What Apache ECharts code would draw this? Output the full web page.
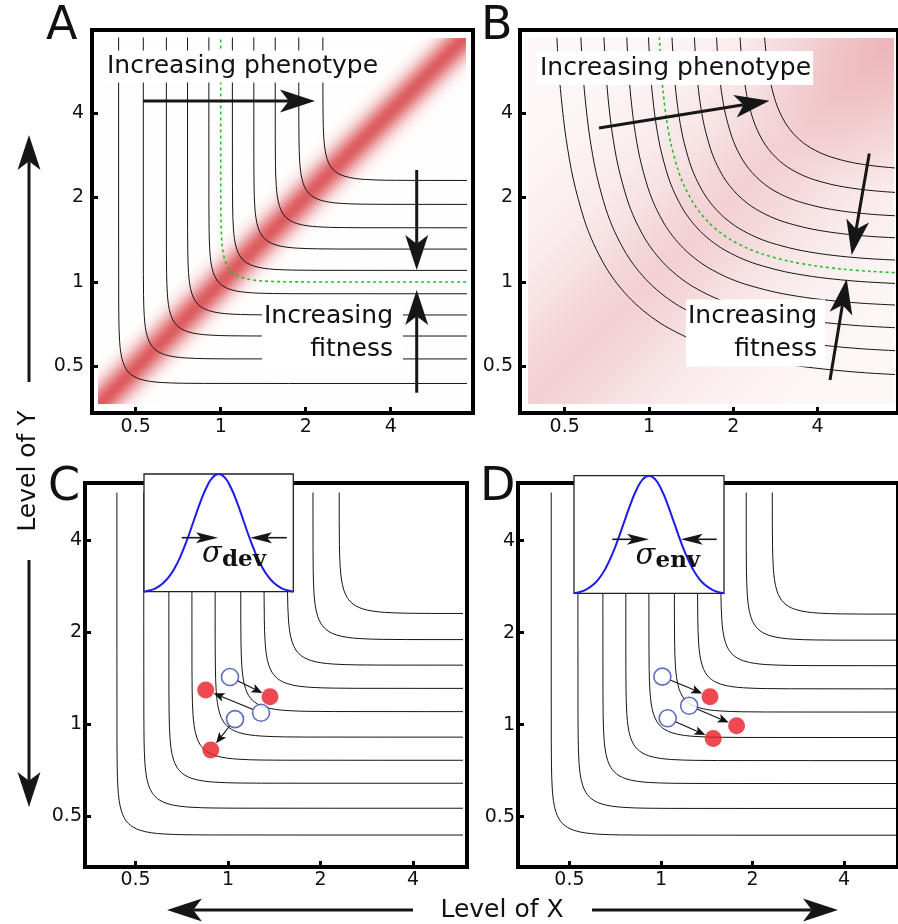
<!DOCTYPE html>
<html><head><meta charset="utf-8">
<script src="https://cdn.jsdelivr.net/npm/echarts@6/dist/echarts.min.js"></script>
<style>html,body{margin:0;padding:0;background:#fff}#c{width:898px;height:924px}</style>
</head><body><div id="c"></div>
<script>
// ================= DATA =================
const tickValues = [0.5, 1, 2, 4];
const tickLabels = ['0.5', '1', '2', '4'];

// Normalised contour shape (corner of one phenotype isocline), read once from the figure:
// offsets along X (S) and Y (T), in units of the corner size.
const shapeS = [0, 0.00002, 0.00565, 0.0227, 0.0458, 0.0931, 0.1335, 0.1926, 0.2806, 0.415, 0.5305, 0.6864, 0.8244, 1, 1.2, 1.4, 1.7, 2, 2.5, 3, 3.5, 4, 5, 6, 8, 16, 40];
const shapeT = [40, 16, 8, 6, 5, 4, 3.5, 3, 2.5, 2, 1.7, 1.4, 1.2, 1, 0.8244, 0.6864, 0.5305, 0.415, 0.2806, 0.1926, 0.1335, 0.0931, 0.0458, 0.0227, 0.00565, 0.00002, 0];

// Panels A, C, D: contour levels (asymptotic level of X or Y) and corner size (octaves)
const contourLevelsACD = [0.435, 0.532, 0.642, 0.763, 0.908, 1.10, 1.31, 1.56, 1.89, 2.30];
const cornerACD = 0.125;
const optimumLevelA = 1.0;

// Panel B: contour levels and corner sizes (rounder isoclines)
const contourLevelsB = [0.444, 0.544, 0.661, 0.800, 0.958, 1.163, 1.398, 1.675, 2.028, 2.471];
const cornerB        = [0.956, 0.869, 0.789, 0.718, 0.658, 0.599, 0.548, 0.502, 0.457, 0.415];
const optimumLevelB = 1.048;
const optimumCornerB = 0.630;

// Fitness across the diagonal: offset log2(X/Y) -> relative fitness
const fitOffsetA = [-0.6, -0.5, -0.4, -0.35, -0.3, -0.25, -0.2, -0.15, -0.1, -0.05, 0, 0.05, 0.1, 0.15, 0.2, 0.25, 0.3, 0.35, 0.4, 0.5, 0.6];
const fitnessA   = [0.004, 0.021, 0.085, 0.151, 0.249, 0.381, 0.539, 0.707, 0.857, 0.962, 1, 0.962, 0.857, 0.707, 0.539, 0.381, 0.249, 0.151, 0.085, 0.021, 0.004];
const fitOffsetB = [-4.4, -3, -2.5, -2, -1.5, -1, -0.5, 0, 0.5, 1, 1.5, 2, 2.5, 3, 4.4];
const fitnessB   = [0.08, 0.09, 0.11, 0.15, 0.21, 0.29, 0.39, 0.45, 0.39, 0.29, 0.21, 0.15, 0.11, 0.09, 0.08];

// Panel C: development noise moves (start -> end)
const cStartX = [1.015, 1.281, 1.054];
const cStartY = [1.427, 1.091, 1.040];
const cEndX   = [1.370, 0.846, 0.879];
const cEndY   = [1.230, 1.294, 0.824];
// Panel D: environmental noise moves (start -> end)
const dStartX = [1.005, 1.230, 1.046];
const dStartY = [1.436, 1.154, 1.050];
const dEndX   = [1.439, 1.758, 1.474];
const dEndY   = [1.235, 0.992, 0.902];

// Inset noise distribution
const gaussX = [-3,-2.75,-2.5,-2.25,-2,-1.75,-1.5,-1.25,-1,-0.75,-0.5,-0.25,0,0.25,0.5,0.75,1,1.25,1.5,1.75,2,2.25,2.5,2.75,3];
const gaussY = [0.011,0.023,0.044,0.080,0.135,0.216,0.325,0.458,0.607,0.755,0.882,0.969,1,0.969,0.882,0.755,0.607,0.458,0.325,0.216,0.135,0.080,0.044,0.023,0.011];

// ================= LAYOUT / STYLE =================
const FONT = 'DejaVu Sans';
const L2 = Math.log2;
const panels = [
  {frame:[92,30,473,413],  inner:[98,38,466,404],  ox:220.7, oy:282,   px:85,   py:84.5, mx:5, my:8},
  {frame:[520,30,901,413], inner:[528,38,894,404], ox:650,   oy:282,   px:85,   py:84.5, mx:5, my:7},
  {frame:[85,483,467,867], inner:[91,493,462,861], ox:228,   oy:724.3, px:92.5, py:92.2, mx:4, my:3},
  {frame:[518,483,900,867],inner:[524,493,895,861],ox:661.7, oy:724.7, px:92,   py:92,   mx:4, my:3}
];
const grids = [], xAxes = [], yAxes = [];
const tickLog = tickValues.map(L2);
const fmt = v => { const i = tickLog.findIndex(t => Math.abs(t - v) < 1e-6); return i >= 0 ? tickLabels[i] : ''; };
const hiddenAxis = (gi, min, max) => ({type:'value', gridIndex:gi, min:min, max:max, show:false,
  axisLine:{show:false, onZero:false}, axisTick:{show:false}, axisLabel:{show:false}, splitLine:{show:false}});
panels.forEach(p => {
  const toX = x => (x - p.ox) / p.px, toY = y => (p.oy - y) / p.py;
  [p.frame, p.inner].forEach((r, k) => {
    const isF = k === 0;
    grids.push({left:r[0], top:r[1], width:r[2]-r[0], height:r[3]-r[1], show:isF, borderColor:'#000', borderWidth:4, backgroundColor:'rgba(0,0,0,0)', z:0});
    const gi = grids.length - 1;
    const mk = (min, max, margin) => isF ? {
      type:'value', gridIndex:gi, min:min, max:max, axisLine:{show:false, onZero:false}, splitLine:{show:false},
      axisTick:{show:true, inside:true, length:6, lineStyle:{color:'#000', width:3}, customValues:tickLog},
      axisLabel:{show:true, fontSize:19, fontFamily:FONT, color:'#111', margin:margin, customValues:tickLog, formatter:fmt}
    } : hiddenAxis(gi, min, max);
    xAxes.push(mk(toX(r[0]), toX(r[2]), p.mx));
    yAxes.push(mk(toY(r[3]), toY(r[1]), p.my));
  });
});
// inset grids (C, D)
const insets = [[144,474,293.3,591.7],[574,475.7,724,593.3]];
insets.forEach(r => {
  grids.push({left:r[0], top:r[1], width:r[2]-r[0], height:r[3]-r[1], show:true, backgroundColor:'#fff', borderColor:'#222', borderWidth:1.3, z:5});
  const gi = grids.length - 1;
  xAxes.push(hiddenAxis(gi, -3, 3));
  yAxes.push(hiddenAxis(gi, 0.011, 1));
});

const series = [];
// ---- fitness landscapes ----
function mix(c, f){ return 'rgb(' + c.map(v => Math.round(255 - f*(255 - v))).join(',') + ')'; }
function bandStops(offs, fit, R, col){
  const s = [{offset:0, color:mix(col, fit[0])}];
  offs.forEach((d,i) => { const t = Math.min(1, Math.max(0, 0.5 + d/(2*R))); s.push({offset:t, color:mix(col, fit[i])}); });
  s.push({offset:1, color:mix(col, fit[fit.length-1])});
  return s;
}
function heatSeries(axisIdx, offs, fit, col, boost){
  const xa = xAxes[axisIdx];
  const R = xa.max - xa.min;
  const grad = {type:'linear', x:0, y:0, x2:1, y2:1, global:false, colorStops:bandStops(offs, fit, R, col)};
  return {type:'custom', xAxisIndex:axisIdx, yAxisIndex:axisIdx, z:1, silent:true, animation:false,
    data:[[0,0]],
    renderItem:(params, api) => {
      const cs = params.coordSys;
      const ch = [{type:'rect', shape:{x:cs.x, y:cs.y, width:cs.width, height:cs.height}, style:{fill:grad}}];
      if (boost) ch.push({type:'rect', shape:{x:cs.x, y:cs.y, width:cs.width, height:cs.height},
        style:{fill:{type:'radial', x:1, y:0, r:0.42, global:false, colorStops:[{offset:0, color:'rgba(226,140,146,0.4)'},{offset:1, color:'rgba(226,140,146,0)'}]}}});
      return {type:'group', children:ch};
    }};
}
series.push(heatSeries(1, fitOffsetA, fitnessA, [221,92,95], false));
series.push(heatSeries(3, fitOffsetB, fitnessB, [228,150,155], true));

// ---- contours ----
function contour(axisIdx, level, corner, style, smooth){
  const l = L2(level);
  return {type:'line', xAxisIndex:axisIdx, yAxisIndex:axisIdx, z:2, silent:true, animation:false, symbol:'none', clip:true,
    smooth:smooth, lineStyle:style, data:shapeS.map((s,i) => [l + s*corner, l + shapeT[i]*corner])};
}
const blackLine = {color:'#151515', width:1};
const greenLine = {color:'rgb(40,190,40)', width:1.6, type:[3,3]};
contourLevelsACD.forEach(L => {
  series.push(contour(1, L, cornerACD, blackLine, false));
  series.push(contour(5, L, cornerACD, blackLine, false));
  series.push(contour(7, L, cornerACD, blackLine, false));
});
series.push(contour(1, optimumLevelA, cornerACD, greenLine, false));
contourLevelsB.forEach((L,i) => series.push(contour(3, L, cornerB[i], blackLine, 0.3)));
series.push(contour(3, optimumLevelB, optimumCornerB, greenLine, 0.3));

// ---- noise moves in C and D ----
function moves(axisIdx, sx, sy, ex, ey){
  const data = sx.map((x,i) => [L2(x), L2(sy[i]), L2(ex[i]), L2(ey[i])]);
  series.push({type:'custom', xAxisIndex:axisIdx, yAxisIndex:axisIdx, z:3, silent:true, animation:false,
    encode:{x:[0,2], y:[1,3]}, data:data,
    renderItem:(params, api) => {
      const a = api.coord([api.value(0), api.value(1)]), b = api.coord([api.value(2), api.value(3)]);
      const dx = b[0]-a[0], dy = b[1]-a[1], len = Math.hypot(dx,dy), ux = dx/len, uy = dy/len, nx = -uy, ny = ux;
      const s = [a[0]+ux*8.5, a[1]+uy*8.5], t = [b[0]-ux*8.5, b[1]-uy*8.5];
      const hl = 11, hw = 4.5, m = [t[0]-ux*(hl-2.5), t[1]-uy*(hl-2.5)], base = [t[0]-ux*hl, t[1]-uy*hl];
      return {type:'group', children:[
        {type:'line', shape:{x1:s[0], y1:s[1], x2:m[0], y2:m[1]}, style:{stroke:'#111', lineWidth:1.1}},
        {type:'polygon', shape:{points:[t, [base[0]+nx*hw, base[1]+ny*hw], m, [base[0]-nx*hw, base[1]-ny*hw]]}, style:{fill:'#111'}}
      ]};
    }});
  series.push({type:'scatter', xAxisIndex:axisIdx, yAxisIndex:axisIdx, z:4, silent:true, animation:false, symbolSize:17,
    itemStyle:{color:'#fff', borderColor:'#3548b0', borderWidth:1.6}, data:sx.map((x,i) => [L2(x), L2(sy[i])])});
  series.push({type:'scatter', xAxisIndex:axisIdx, yAxisIndex:axisIdx, z:4, silent:true, animation:false, symbolSize:17,
    itemStyle:{color:'#ea1c26'}, data:ex.map((x,i) => [L2(x), L2(ey[i])])});
}
moves(5, cStartX, cStartY, cEndX, cEndY);
moves(7, dStartX, dStartY, dEndX, dEndY);

// ---- inset distributions ----
[8,9].forEach(ai => series.push({type:'line', xAxisIndex:ai, yAxisIndex:ai, z:6, silent:true, animation:false, symbol:'none', clip:false,
  smooth:true, lineStyle:{color:'#1c1ce8', width:2}, data:gaussX.map((x,i) => [x, gaussY[i]])}));

// ================= ANNOTATIONS =================
const G = [];
function arrow(x1,y1,x2,y2,o){
  const dx=x2-x1, dy=y2-y1, len=Math.hypot(dx,dy), ux=dx/len, uy=dy/len, nx=-uy, ny=ux;
  const hl=o.hl, hw=o.hw, notch=(o.notch!=null?o.notch:hl*0.25);
  const bx=x2-ux*hl, by=y2-uy*hl, mx=x2-ux*(hl-notch), my=y2-uy*(hl-notch);
  G.push({type:'line', z:110, silent:true, shape:{x1:x1, y1:y1, x2:mx, y2:my}, style:{stroke:'#161616', lineWidth:o.lw}});
  G.push({type:'polygon', z:110, silent:true, shape:{points:[[x2,y2],[bx+nx*hw,by+ny*hw],[mx,my],[bx-nx*hw,by-ny*hw]]}, style:{fill:'#161616'}});
}
function text(x,y,str,o){
  G.push({type:'text', x:x, y:y, z:o.z||105, silent:true, rotation:o.rot||0,
    style:Object.assign({text:str, fontFamily:FONT, fontSize:o.fs, fill:'#111', align:o.align||'left', verticalAlign:'middle'}, o.extra||{})});
}
// panel letters
text(46, 27, 'A', {fs:46});
text(481, 27, 'B', {fs:46});
text(48, 488, 'C', {fs:46});
text(480, 488, 'D', {fs:46});
// axis titles
text(28, 471, 'Level of Y', {fs:25, align:'center', rot:Math.PI/2});
text(502, 910, 'Level of X', {fs:25, align:'center'});
// label boxes
text(104, 66.4, 'Increasing phenotype', {fs:25, extra:{backgroundColor:'#fff', padding:[4,4,3,3], lineHeight:25}});
text(537, 68, 'Increasing phenotype', {fs:25, extra:{backgroundColor:'#fff', padding:[5,2,4,3], lineHeight:25}});
text(403, 333, 'Increasing\nfitness', {fs:25, align:'right', extra:{backgroundColor:'#fff', padding:[0,10,0,2], lineHeight:33.4}});
text(825, 333, 'Increasing\nfitness', {fs:25, align:'right', extra:{backgroundColor:'#fff', padding:[0,8,0,2], lineHeight:33.4}});
// big arrows
const big = {hl:35, hw:11.5, lw:3};
arrow(143, 101, 315, 101, big);
arrow(416.7, 170, 416.7, 270, big);
arrow(416.7, 392.7, 416.7, 290, big);
arrow(599, 128, 769.5, 100.7, big);
arrow(869.3, 153.5, 851.7, 255, big);
arrow(830, 380, 846.7, 279, big);
arrow(29, 382, 29, 135, big);
arrow(29, 560, 29, 807, big);
arrow(413, 910, 167, 910, big);
arrow(592, 910, 838, 910, big);
// inset width arrows and sigma labels
const small = {hl:22, hw:5.5, lw:1.6, notch:5};
arrow(181.7, 537.7, 218, 537.7, small);
arrow(286.7, 537.7, 250, 537.7, small);
arrow(612.3, 539.3, 649, 539.3, small);
arrow(716.7, 539.3, 680.7, 539.3, small);
text(202, 554.5, 'σ', {fs:29, z:112, extra:{fontFamily:'DejaVu Serif', fontStyle:'italic'}});
text(222, 560, 'dev', {fs:23, z:112, extra:{fontFamily:'DejaVu Serif', fontWeight:'bold'}});
text(635.5, 556, 'σ', {fs:29, z:112, extra:{fontFamily:'DejaVu Serif', fontStyle:'italic'}});
text(655.5, 561.5, 'env', {fs:23, z:112, extra:{fontFamily:'DejaVu Serif', fontWeight:'bold'}});

const chart = echarts.init(document.getElementById('c'), null, {renderer:'canvas', width:898, height:924});
chart.setOption({
  animation:false,
  backgroundColor:'#fff',
  grid:grids, xAxis:xAxes, yAxis:yAxes,
  series:series,
  graphic:{elements:G}
});
</script>
</body></html>
